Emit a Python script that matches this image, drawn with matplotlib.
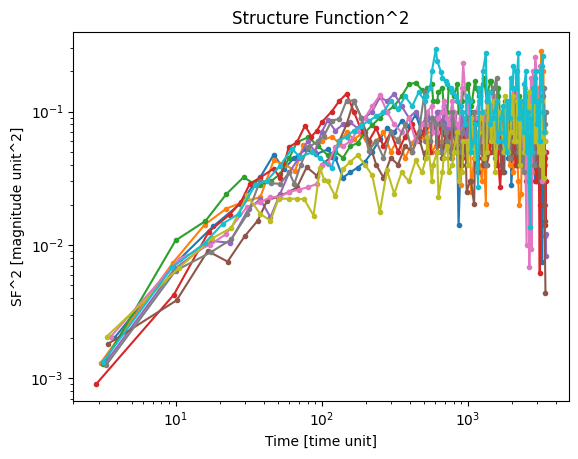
import matplotlib.pyplot as plt

# time lags shared by the dense part of every curve
tail_a = [110, 124, 140, 157, 176, 198, 222, 250, 280, 314, 352, 395, 440, 485, 530,
          580, 630, 685, 740, 800, 865, 930, 1000, 1070, 1140, 1215, 1290, 1370, 1450, 1535,
          1620, 1710, 1800, 1890, 1985, 2080, 2175, 2270, 2365, 2460, 2550, 2640, 2730, 2815,
          2900, 2985, 3070, 3150, 3230, 3300, 3370, 3440]
tail_b = [117, 132, 148, 166, 187, 210, 236, 265, 297, 333, 373, 417, 462, 507, 555,
          605, 657, 712, 770, 832, 897, 965, 1035, 1105, 1178, 1252, 1330, 1410, 1492, 1578,
          1665, 1755, 1845, 1938, 2032, 2128, 2222, 2318, 2412, 2505, 2595, 2685, 2772, 2858,
          2942, 3028, 3110, 3190, 3265, 3335, 3405, 3445]
tail_c = [520, 568, 618, 670, 726, 785, 848, 915, 983, 1053, 1122, 1196, 1270, 1350, 1430,
          1513, 1600, 1688, 1778, 1868, 1962, 2055, 2150, 2245, 2340, 2435, 2528, 2618, 2708,
          2795, 2880, 2965, 3050, 3130, 3210, 3285, 3355, 3425]

# short lags (x) and SF^2 (y) for each object
early_x = [
    [3.8, 9.6, 18.1, 27.8, 34, 38, 47, 55, 65, 78, 92],
    [3.08, 9.6, 15.8, 22.2, 29, 38, 47, 56, 65.8, 75, 88, 100],
    [3.2, 10, 16, 22.3, 29.2, 34, 38.1, 45, 52, 60, 67.7, 81, 95],
    [2.85, 9.74, 16.9, 23.5, 28, 32.2, 38, 47, 52, 59.5, 67.7, 77, 85, 93, 100],
    [3.3, 9.8, 17.8, 23.4, 31.7, 38, 44.6, 52, 60, 70, 80, 90, 100],
    [3.47, 10.16, 16.6, 22.7, 29.7, 36.5, 42.3, 50, 59.5, 67.7, 79, 93, 100],
    [3.6, 10.65, 17.1, 22, 30.9, 38, 44.6, 52, 60, 70, 80, 93, 100],
    [3.34, 10, 17.5, 24, 31, 38, 45, 52, 60, 65, 72, 81, 95, 104],
    [3.37, 10.5, 17.8, 24.1, 30.9, 38, 44.6, 50.7, 59.5, 67.7, 76, 88, 97.4, 104],
    [3.19, 9.5, 15.8, 21, 27, 35, 42.3, 52, 62.5, 71, 86, 97],
]
early_y = [
    [0.0020, 0.0070, 0.0138, 0.0204, 0.028, 0.0322, 0.0476, 0.037, 0.045, 0.052, 0.048],
    [0.00131, 0.00736, 0.01416, 0.0187, 0.021, 0.0228, 0.043, 0.04, 0.036, 0.0557, 0.05, 0.06],
    [0.00128, 0.0108, 0.0151, 0.0241, 0.0322, 0.029, 0.0283, 0.03, 0.034, 0.045, 0.0589, 0.0642, 0.055],
    [0.0009, 0.00424, 0.0126, 0.0169, 0.021, 0.0287, 0.032, 0.0374, 0.0315, 0.054, 0.0589, 0.0786,
     0.065, 0.072, 0.083],
    [0.0013, 0.0066, 0.0107, 0.0104, 0.0187, 0.022, 0.0161, 0.0242, 0.035, 0.045, 0.06, 0.05, 0.07],
    [0.00182, 0.00384, 0.009, 0.0075, 0.0116, 0.0152, 0.0215, 0.023, 0.0249, 0.027, 0.0383, 0.033, 0.04],
    [0.00205, 0.00789, 0.01, 0.012, 0.0193, 0.0209, 0.0228, 0.023, 0.025, 0.026, 0.027, 0.0287, 0.04],
    [0.00125, 0.0064, 0.00883, 0.011, 0.017, 0.0304, 0.029, 0.0287, 0.035, 0.0287, 0.04, 0.054, 0.06, 0.066],
    [0.00205, 0.0067, 0.0112, 0.01346, 0.0235, 0.0171, 0.0152, 0.0222, 0.0222, 0.0222, 0.022, 0.0166,
     0.0378, 0.0308],
    [0.00133, 0.0068, 0.0103, 0.0144, 0.0171, 0.028, 0.0304, 0.0394, 0.0526, 0.0455, 0.0496, 0.045],
]

# SF^2 along the shared lags (object i uses tail_a if i is even, tail_b if odd)
tail_y = [
    [0.052, 0.045, 0.032, 0.035, 0.038, 0.042, 0.05, 0.062, 0.075, 0.07, 0.085, 0.078, 0.095, 0.07,
     0.088, 0.075, 0.1, 0.082, 0.065, 0.09, 0.014, 0.075, 0.11, 0.06, 0.09, 0.07, 0.1, 0.065, 0.085,
     0.055, 0.09, 0.06, 0.08, 0.045, 0.028, 0.07, 0.095, 0.05, 0.08, 0.06, 0.04, 0.09, 0.055, 0.075,
     0.035, 0.06, 0.09, 0.03, 0.0074, 0.045],
    [0.065, 0.058, 0.07, 0.062, 0.068, 0.055, 0.06, 0.07, 0.05, 0.062, 0.045, 0.058, 0.07, 0.06, 0.08,
     0.055, 0.075, 0.06, 0.08, 0.05, 0.028, 0.07, 0.09, 0.045, 0.065, 0.03, 0.0204, 0.05, 0.08, 0.06,
     0.09, 0.05, 0.07, 0.04, 0.075, 0.055, 0.03, 0.0242, 0.06, 0.08, 0.045, 0.07, 0.035, 0.06, 0.09,
     0.05, 0.12, 0.286, 0.08, 0.04],
    [0.047, 0.05, 0.045, 0.055, 0.058, 0.07, 0.079, 0.09, 0.1, 0.11, 0.13, 0.16, 0.165, 0.145, 0.15,
     0.12, 0.14, 0.11, 0.15, 0.13, 0.1, 0.14, 0.16, 0.12, 0.15, 0.13, 0.18, 0.14, 0.17, 0.1, 0.15, 0.08,
     0.12, 0.06, 0.1, 0.14, 0.07, 0.11, 0.05, 0.09, 0.13, 0.06, 0.1, 0.04, 0.08, 0.12, 0.05, 0.09, 0.03,
     0.07, 0.045],
    [0.1, 0.12, 0.136, 0.1, 0.072, 0.06, 0.075, 0.055, 0.07, 0.05, 0.065, 0.08, 0.06, 0.075, 0.05, 0.07,
     0.085, 0.06, 0.07, 0.05, 0.065, 0.08, 0.055, 0.07, 0.045, 0.065, 0.08, 0.05, 0.07, 0.04, 0.027,
     0.06, 0.085, 0.05, 0.07, 0.04, 0.065, 0.09, 0.05, 0.075, 0.04, 0.07, 0.1, 0.05, 0.03, 0.08, 0.0062,
     0.06, 0.1, 0.03, 0.0142, 0.05],
    [0.086, 0.072, 0.08, 0.083, 0.075, 0.09, 0.1, 0.128, 0.12, 0.136, 0.11, 0.09, 0.1, 0.08, 0.095,
     0.07, 0.09, 0.11, 0.075, 0.095, 0.06, 0.08, 0.1, 0.07, 0.05, 0.085, 0.06, 0.09, 0.07, 0.045, 0.08,
     0.06, 0.1, 0.07, 0.05, 0.09, 0.06, 0.08, 0.045, 0.07, 0.1, 0.06, 0.085, 0.05, 0.075, 0.04, 0.09,
     0.06, 0.11, 0.05, 0.0116, 0.0083],
    [0.046, 0.06, 0.08, 0.12, 0.09, 0.06, 0.04, 0.032, 0.045, 0.04, 0.055, 0.05, 0.065, 0.045, 0.06,
     0.08, 0.055, 0.07, 0.05, 0.065, 0.04, 0.06, 0.03, 0.0201, 0.035, 0.06, 0.045, 0.07, 0.05, 0.08,
     0.055, 0.035, 0.065, 0.09, 0.05, 0.07, 0.04, 0.08, 0.055, 0.03, 0.06, 0.045, 0.075, 0.04, 0.06,
     0.08, 0.03, 0.05, 0.09, 0.02, 0.00435],
    [0.0406, 0.054, 0.055, 0.06, 0.072, 0.09, 0.11, 0.132, 0.1, 0.08, 0.07, 0.09, 0.06, 0.08, 0.1, 0.07,
     0.09, 0.12, 0.08, 0.1, 0.07, 0.232, 0.12, 0.08, 0.1, 0.06, 0.09, 0.07, 0.11, 0.06, 0.08, 0.1, 0.05,
     0.09, 0.12, 0.06, 0.2, 0.08, 0.05, 0.09, 0.12, 0.0068, 0.0093, 0.12, 0.258, 0.1, 0.06, 0.2, 0.03,
     0.08],
    [0.0856, 0.088, 0.121, 0.121, 0.09, 0.051, 0.06, 0.045, 0.07, 0.06, 0.08, 0.05, 0.07, 0.14, 0.06,
     0.08, 0.05, 0.07, 0.045, 0.065, 0.05, 0.08, 0.06, 0.1, 0.05, 0.07, 0.04, 0.065, 0.09, 0.18, 0.07,
     0.05, 0.08, 0.045, 0.07, 0.12, 0.05, 0.08, 0.035, 0.06, 0.09, 0.05, 0.07, 0.04, 0.1, 0.06, 0.08,
     0.12, 0.05, 0.15, 0.07],
    [0.03, 0.0231, 0.0372, 0.042, 0.047, 0.04, 0.0332, 0.0176, 0.0362, 0.0242, 0.035, 0.03, 0.043,
     0.035, 0.0642, 0.04, 0.0228, 0.045, 0.035, 0.05, 0.03, 0.06, 0.04, 0.08, 0.05, 0.09, 0.045, 0.11,
     0.06, 0.035, 0.1, 0.07, 0.13, 0.05, 0.09, 0.06, 0.12, 0.04, 0.1, 0.15, 0.07, 0.11, 0.05, 0.09, 0.13,
     0.06, 0.1, 0.04, 0.07, 0.032, 0.06],
    [0.038, 0.0606, 0.065, 0.072, 0.0786, 0.085, 0.092, 0.099, 0.12, 0.105, 0.13, 0.11, 0.14, 0.12,
     0.15, 0.295, 0.197, 0.17, 0.15, 0.13, 0.11, 0.08, 0.12, 0.06, 0.0271, 0.1, 0.275, 0.14, 0.09, 0.12,
     0.07, 0.11, 0.05, 0.09, 0.15, 0.2, 0.275, 0.12, 0.07, 0.2, 0.1, 0.0136, 0.05, 0.12, 0.2, 0.1, 0.06,
     0.15, 0.263, 0.07],
]

# extra SF^2 values at the in-between lags tail_c
extra_y = [
    [0.06, 0.09, 0.07, 0.1, 0.06, 0.08, 0.05, 0.09, 0.065, 0.1, 0.055, 0.08, 0.045, 0.09, 0.06, 0.1,
     0.05, 0.075, 0.035, 0.065, 0.09, 0.05, 0.08, 0.04, 0.07, 0.1, 0.05, 0.08, 0.045, 0.07, 0.03, 0.08,
     0.05, 0.09, 0.02, 0.06],
    [0.07, 0.05, 0.09, 0.06, 0.075, 0.045, 0.06, 0.08, 0.05, 0.025, 0.06, 0.04, 0.07, 0.09, 0.05, 0.08,
     0.06, 0.04, 0.07, 0.1, 0.05, 0.035, 0.06, 0.02, 0.05, 0.08, 0.06, 0.09, 0.05, 0.07, 0.1, 0.06, 0.15,
     0.08, 0.05, 0.2, 0.04],
    [0.13, 0.16, 0.12, 0.15, 0.1, 0.14, 0.16, 0.12, 0.15, 0.11, 0.17, 0.13, 0.16, 0.12, 0.17, 0.09, 0.13,
     0.07, 0.11, 0.08, 0.12, 0.06, 0.1, 0.13, 0.07, 0.1, 0.05, 0.09, 0.12, 0.06, 0.1, 0.05, 0.08, 0.11,
     0.04, 0.07, 0.05],
    [0.06, 0.08, 0.05, 0.07, 0.055, 0.08, 0.06, 0.045, 0.07, 0.06, 0.085, 0.05, 0.07, 0.04, 0.06, 0.08,
     0.05, 0.035, 0.07, 0.09, 0.05, 0.07, 0.04, 0.08, 0.06, 0.1, 0.05, 0.07, 0.04, 0.09, 0.05, 0.03, 0.07,
     0.02, 0.08, 0.04, 0.06, 0.03],
    [0.09, 0.07, 0.1, 0.08, 0.06, 0.09, 0.07, 0.1, 0.06, 0.085, 0.07, 0.05, 0.08, 0.065, 0.1, 0.055,
     0.08, 0.06, 0.09, 0.05, 0.075, 0.1, 0.06, 0.08, 0.05, 0.09, 0.065, 0.1, 0.05, 0.08, 0.06, 0.09,
     0.04, 0.07, 0.1, 0.03, 0.02, 0.012],
    [0.05, 0.07, 0.06, 0.045, 0.065, 0.05, 0.07, 0.04, 0.025, 0.03, 0.05, 0.07, 0.04, 0.06, 0.075, 0.05,
     0.065, 0.04, 0.08, 0.06, 0.045, 0.07, 0.05, 0.09, 0.04, 0.06, 0.035, 0.07, 0.05, 0.08, 0.045, 0.065,
     0.04, 0.07, 0.05, 0.1, 0.015],
    [0.08, 0.11, 0.07, 0.1, 0.09, 0.12, 0.08, 0.15, 0.1, 0.07, 0.09, 0.12, 0.06, 0.1, 0.08, 0.13, 0.07,
     0.09, 0.11, 0.06, 0.1, 0.15, 0.07, 0.11, 0.06, 0.1, 0.01, 0.07, 0.18, 0.2, 0.09, 0.14, 0.07, 0.22,
     0.1, 0.05],
    [0.06, 0.09, 0.05, 0.08, 0.06, 0.1, 0.05, 0.07, 0.09, 0.06, 0.08, 0.05, 0.1, 0.12, 0.07, 0.15, 0.06,
     0.08, 0.05, 0.09, 0.07, 0.1, 0.06, 0.08, 0.045, 0.07, 0.1, 0.06, 0.08, 0.05, 0.09, 0.07, 0.11, 0.06,
     0.09, 0.13, 0.08, 0.1],
    [0.045, 0.03, 0.05, 0.035, 0.055, 0.04, 0.07, 0.035, 0.06, 0.09, 0.045, 0.07, 0.1, 0.05, 0.08, 0.12,
     0.06, 0.09, 0.05, 0.11, 0.07, 0.13, 0.06, 0.09, 0.12, 0.05, 0.1, 0.14, 0.07, 0.11, 0.06, 0.1, 0.05,
     0.08, 0.12, 0.05, 0.07],
    [0.13, 0.2, 0.24, 0.18, 0.16, 0.14, 0.12, 0.1, 0.13, 0.05, 0.08, 0.15, 0.2, 0.12, 0.08, 0.1, 0.06,
     0.09, 0.06, 0.12, 0.18, 0.22, 0.15, 0.09, 0.1, 0.16, 0.05, 0.03, 0.09, 0.15, 0.18, 0.08, 0.12, 0.2,
     0.22, 0.1],
]

fig = plt.figure(figsize=(5.78, 4.59), dpi=100)
ax = fig.add_subplot(111)
fig.subplots_adjust(left=0.127, right=0.984, bottom=0.126, top=0.930)

for i in range(10):
    grid = tail_a if i % 2 == 0 else tail_b
    pts = list(zip(grid, tail_y[i])) + list(zip(tail_c, extra_y[i]))
    pts.sort()
    x = early_x[i] + [p[0] for p in pts]
    y = early_y[i] + [p[1] for p in pts]
    ax.plot(x, y, '.-')

ax.set_xscale('log')
ax.set_yscale('log')
ax.set_title('Structure Function^2')
ax.set_xlabel('Time [time unit]')
ax.set_ylabel('SF^2 [magnitude unit^2]')
fig.savefig('out.png')
